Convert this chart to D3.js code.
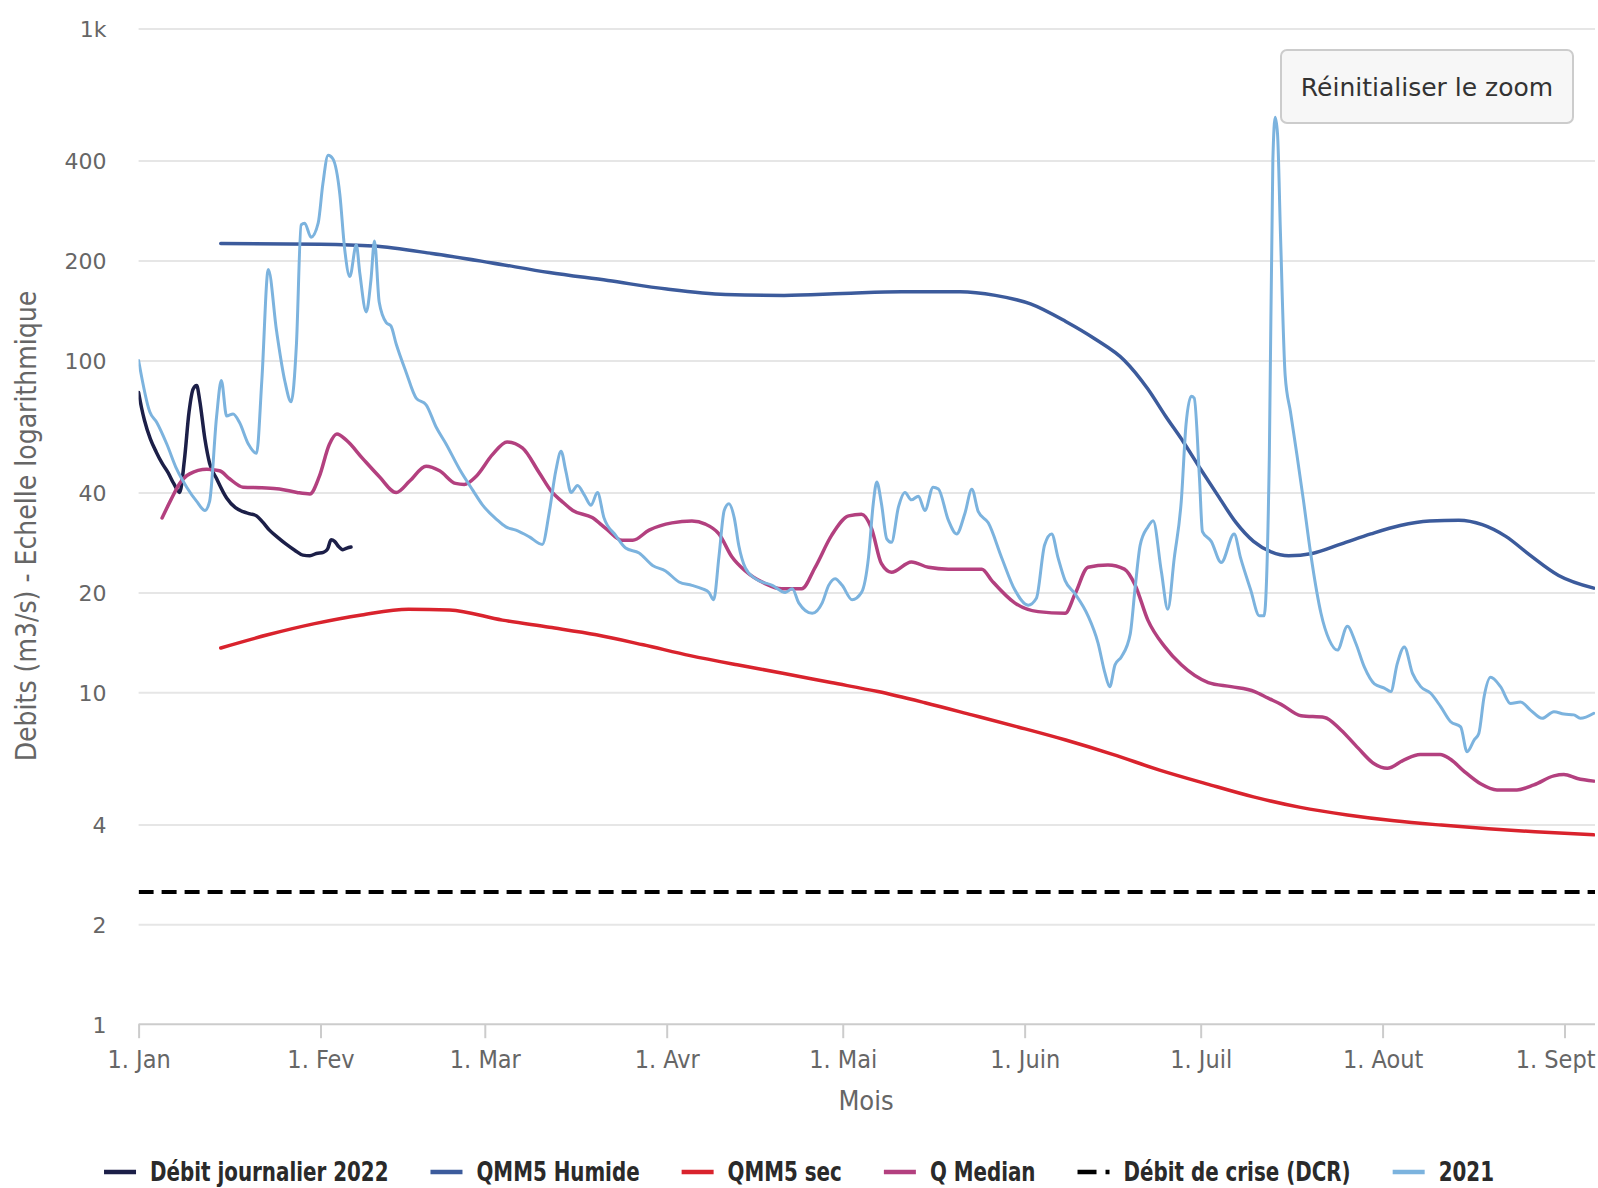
<!DOCTYPE html>
<html><head><meta charset="utf-8">
<script src="https://cdn.jsdelivr.net/npm/d3@7"></script>
<style>
html,body{margin:0;padding:0;background:#fff;}
svg{display:block;}
</style></head>
<body>
<svg id="chart" width="1598" height="1188"></svg>
<script>
// ---------- DATA (day offset from 1 Jan, value in m3/s) ----------
const yTickValues = [1, 2, 4, 10, 20, 40, 100, 200, 400, 1000];
const yTickLabels = ["1", "2", "4", "10", "20", "40", "100", "200", "400", "1k"];
const monthLabels = ["1. Jan", "1. Fev", "1. Mar", "1. Avr", "1. Mai", "1. Juin", "1. Juil", "1. Aout", "1. Sept"];
const seriesNames = ["Débit journalier 2022", "QMM5 Humide", "QMM5 sec", "Q Median", "Débit de crise (DCR)", "2021"];

const debit2022 = [[0,80],[0.5,72],[1,66],[2,58],[3,53],[4,49],[5,46],[6,42.5],[7,40],[7.8,50],[8.6,70],[9.3,82],[9.9,84],[10.4,76],[11.3,58],[12.1,49],[13.3,44],[15,38.5],[16.5,36],[17.8,35],[19,34.5],[20.1,34],[21.2,32.5],[22.3,30.8],[23.7,29.3],[25.2,27.9],[26.6,26.8],[28,25.9],[29.2,25.8],[30.3,26.2],[31.5,26.4],[32.2,27],[32.8,28.8],[33.4,28.5],[34,27.6],[34.8,26.9],[35.5,27.2],[36.2,27.4]];

const qmm5Humide = [[14,225],[31,224],[40,221],[50,210],[60,197],[70,184],[80,174],[90,164],[100,158],[110,157],[120,159],[130,161],[140,161],[146,157],[152,148],[158,131],[163,116],[168,100],[172,82],[175,68],[178,57],[181,47],[184,39],[187,32.5],[190,28.5],[193,26.5],[196,25.8],[200,26.2],[205,28],[210,30],[215,31.8],[220,32.8],[225,33],[229,32],[233,29.5],[237,26],[242,22.5],[248,20.6]];

const qmm5Sec = [[14,13.6],[22,14.9],[30,16.1],[38,17.1],[46,17.8],[53,17.7],[62,16.5],[70,15.7],[78,14.9],[86,13.9],[94,12.9],[102,12.1],[110,11.4],[118,10.7],[126,10.05],[134,9.3],[142,8.55],[150,7.85],[158,7.18],[166,6.5],[174,5.83],[182,5.3],[190,4.84],[198,4.5],[206,4.27],[214,4.1],[222,3.98],[230,3.88],[238,3.8],[248,3.72]];

const qMedian = [[4,33.5],[5.5,38],[7,42.6],[8.7,45.5],[11.6,47],[13.8,46.5],[15.5,44],[17.8,41.5],[21,41.3],[24,41],[27,40],[29.2,39.6],[30.8,44.7],[32.5,55.8],[33.8,60],[35.4,57.5],[38.2,50.6],[41,44.7],[43.9,40],[46.2,43.3],[49,48],[51.3,46.5],[54,42.6],[55.5,42.3],[57.5,44.7],[60.3,52],[62.8,56.8],[65.4,54.5],[68.3,45.8],[70.5,40],[72,37.8],[74,35.3],[77.3,33.6],[79.6,31.2],[82.4,28.7],[84.2,28.7],[87,30.8],[90.9,32.4],[94.3,32.8],[96.6,32.1],[98.9,30],[101.1,25.6],[103.4,23.2],[106.7,21.3],[109.6,20.5],[113,20.5],[115.3,23.8],[118.1,29.7],[121,34],[123.2,34.4],[124.9,31.2],[126.6,24.4],[128.3,23],[131.7,24.7],[134.6,23.8],[138,23.5],[143.7,23.5],[145.4,21.7],[149.3,18.6],[153.3,17.5],[157.9,17.3],[159.6,19.8],[161.8,23.8],[165.2,24.2],[168,23.5],[169.8,21.1],[172,16.5],[174.9,13.7],[177.7,12.1],[182.3,10.7],[186.2,10.4],[190.2,10.05],[192.5,9.6],[194.7,9.2],[198.1,8.5],[202.1,8.4],[204.9,7.7],[207.8,6.8],[210.5,6.1],[212.8,5.9],[215.6,6.25],[218.4,6.5],[221.8,6.5],[223.5,6.3],[225.8,5.8],[228.7,5.3],[231.5,5.08],[234.9,5.08],[237.8,5.26],[241.2,5.6],[242.9,5.65],[245.2,5.5],[248,5.4]];

const dcrValue = 2.5;

const year2021 = [[0,100],[1.9,70],[3.1,65],[4.8,56],[6.5,47],[8.2,41.5],[9.9,37.6],[11.3,35.3],[12.1,37.6],[13.3,68],[14.1,87],[15,68],[16.1,69],[17.2,65],[18.7,56],[20.1,52.5],[21,87],[22.1,188],[23.5,123],[24.9,87],[26,75],[26.9,112],[27.7,256],[28.3,259],[29.4,235],[30.6,259],[31.4,340],[32.3,415],[33.1,405],[34.3,316],[35.1,218],[36,179],[37.1,223],[37.7,183],[38.8,140],[39.6,175],[40.2,229],[41,150],[42.2,130],[43,127],[43.9,112],[45.6,92],[47.3,77],[49,73.5],[50.7,63],[52.4,56],[54.7,47],[57,40.5],[58.6,36.7],[61,33.2],[62.6,31.5],[64.3,30.8],[66.6,29.4],[68.8,27.9],[70,35],[71.1,46.5],[72,53.2],[72.8,46.5],[73.7,40],[74.8,42],[76,39.2],[77.1,36.6],[78.2,40],[79.3,33.6],[81.3,29.7],[83,27.2],[85.3,26.3],[87.6,24.1],[89.8,23.2],[92.1,21.5],[94.3,21],[96.1,20.5],[97.2,20],[98,19],[98.9,25.6],[99.8,35.3],[100.6,37],[101.5,33.6],[102.3,27.6],[103.4,23.7],[105.1,22],[108,21],[110.2,20],[111.4,20.5],[112.5,18.6],[114.8,17.3],[116.5,18.6],[117.6,21],[118.7,22],[119.9,21],[121.6,19],[123.2,20],[124.4,25.6],[125.2,37],[125.8,43],[126.6,37],[127.5,29],[128.3,28.3],[129.5,36.2],[130.6,40],[131.7,38],[132.9,39],[134,35.3],[135.4,41.5],[136.3,41],[138,33],[139.4,30],[140.8,34.5],[142,40.9],[143.1,35],[144.8,32.4],[147.1,25.4],[149.3,20.4],[151.6,18.3],[153,19.2],[154.4,27.8],[155.6,30],[156.7,25.4],[157.9,21.7],[159.6,19.8],[161.8,17],[163.5,14.1],[164.7,11.4],[165.5,10.4],[166.4,12.1],[167.5,12.8],[169,15],[169.8,20.4],[170.7,27.8],[172,31.5],[172.9,32.9],[174.3,23.1],[175.4,17.8],[176.5,25.4],[177.7,37.8],[178.5,64],[179.4,78],[179.9,77],[180.8,44],[181.3,30.5],[182.8,28.5],[184.5,24.6],[186.7,30],[187.8,25.4],[189.5,20.4],[191,17],[191.8,17],[192.7,51.5],[193.3,400],[193.7,540],[194.1,480],[194.6,240],[195.4,90],[196.3,70],[197.4,52],[198.5,38],[199.7,26.5],[200.8,20],[201.5,17.3],[202.9,14.4],[204.3,13.4],[206,15.8],[207.4,14.1],[208.9,11.9],[210.6,10.6],[212.3,10.3],[213.4,10.05],[214.5,12.2],[215.7,13.7],[217.1,11.4],[218.5,10.4],[220.2,9.93],[221.9,9.05],[223.6,8.15],[225.3,7.87],[226.4,6.62],[227.6,7.18],[228.4,7.52],[229.3,9.7],[230.4,11.1],[232.1,10.4],[233.8,9.26],[235.5,9.35],[237.2,8.84],[239.2,8.35],[241.2,8.74],[242.9,8.6],[244.6,8.55],[245.7,8.35],[248,8.65]];

// ---------- LAYOUT ----------
const W = 1598, H = 1188;
const plotL = 138.6, plotR = 1595, plotT = 28.5, plotB = 1024.2;
const t0 = Date.UTC(2022, 0, 1);
const toDate = d => new Date(t0 + d * 86400000);
const endDay = 248.2;

const colors = {
  d2022: "#1c1f48",
  humide: "#3c5b9c",
  sec: "#d9232d",
  median: "#b3407f",
  dcr: "#000000",
  y2021: "#7cb3de"
};

const svg = d3.select("#chart");
const x = d3.scaleUtc().domain([toDate(0), toDate(endDay)]).range([plotL, plotR]);
const y = d3.scaleLog().domain([1, 1000]).range([plotB, plotT]);

// gridlines
const grid = svg.append("g").attr("transform", `translate(${plotL},0)`)
  .call(d3.axisLeft(y).tickValues(yTickValues.filter(v => v > 1)).tickSize(-(plotR - plotL)).tickFormat(""));
grid.select(".domain").remove();
grid.selectAll("line").attr("stroke", "#e6e6e6").attr("stroke-width", 2);

// y labels
const yAxis = svg.append("g").attr("transform", `translate(${plotL},0)`)
  .call(d3.axisLeft(y).tickValues(yTickValues).tickSize(0).tickPadding(32)
    .tickFormat(d => yTickLabels[yTickValues.indexOf(d)]));
yAxis.select(".domain").remove();
yAxis.selectAll("text").attr("fill", "#666").attr("font-family", "'DejaVu Sans', Verdana, sans-serif")
  .attr("font-size", 22).attr("dy", "0.36em");

// x axis
const monthDates = d3.utcMonth.range(toDate(0), toDate(endDay));
const xAxis = svg.append("g").attr("transform", `translate(0,${plotB})`)
  .call(d3.axisBottom(x).tickValues(monthDates).tickSize(14).tickPadding(12)
    .tickFormat((d, i) => monthLabels[i]));
xAxis.select(".domain").attr("stroke", "#cccccc").attr("stroke-width", 2)
  .attr("d", `M${plotL},0H${plotR}`);
xAxis.selectAll(".tick line").attr("stroke", "#cccccc").attr("stroke-width", 2);
xAxis.selectAll("text").attr("fill", "#666").attr("font-family", "'DejaVu Sans Condensed', 'DejaVu Sans', sans-serif")
  .attr("font-size", 25).attr("font-stretch", "condensed");
// keep the last label inside the chart, as the original does
const lastTick = monthDates[monthDates.length - 1];
xAxis.selectAll(".tick text").filter(d => +d === +lastTick)
  .attr("text-anchor", "end").attr("x", plotR - x(lastTick));

// axis titles
svg.append("text").attr("x", 866).attr("y", 1100).attr("dy", "0.36em").attr("text-anchor", "middle")
  .attr("fill", "#666").attr("font-family", "'DejaVu Sans Condensed', 'DejaVu Sans', sans-serif")
  .attr("font-stretch", "condensed").attr("font-size", 27).text("Mois");
svg.append("text").attr("transform", "translate(26,526) rotate(-90)").attr("dy", "0.36em")
  .attr("text-anchor", "middle").attr("fill", "#666")
  .attr("font-family", "'DejaVu Sans Condensed', 'DejaVu Sans', sans-serif").attr("font-stretch", "condensed")
  .attr("font-size", 28).text("Debits (m3/s) - Echelle logarithmique");

// lines
const lineGen = d3.line().x(d => x(toDate(d[0]))).y(d => y(d[1])).curve(d3.curveMonotoneX);
const plotG = svg.append("g");
plotG.append("defs").append("clipPath").attr("id", "clip").append("rect")
  .attr("x", plotL).attr("y", plotT - 5).attr("width", plotR - plotL).attr("height", plotB - plotT + 5);
const lines = plotG.append("g").attr("clip-path", "url(#clip)");

function drawLine(data, color, width) {
  lines.append("path").datum(data).attr("d", lineGen).attr("fill", "none")
    .attr("stroke", color).attr("stroke-width", width)
    .attr("stroke-linejoin", "round").attr("stroke-linecap", "round");
}
drawLine(debit2022, colors.d2022, 3.5);
drawLine(qmm5Humide, colors.humide, 3.5);
drawLine(qmm5Sec, colors.sec, 3.5);
drawLine(qMedian, colors.median, 3.5);
lines.append("line").attr("x1", x(toDate(0))).attr("x2", x(toDate(endDay)))
  .attr("y1", y(dcrValue)).attr("y2", y(dcrValue))
  .attr("stroke", colors.dcr).attr("stroke-width", 4).attr("stroke-dasharray", "15,8");
drawLine(year2021, colors.y2021, 3);

// reset zoom button
const btn = svg.append("g");
btn.append("rect").attr("x", 1281).attr("y", 50).attr("width", 292).attr("height", 73).attr("rx", 6)
  .attr("fill", "#f7f7f7").attr("stroke", "#cccccc").attr("stroke-width", 2);
btn.append("text").attr("x", 1427).attr("y", 86.5).attr("dy", "0.36em").attr("text-anchor", "middle")
  .attr("fill", "#333").attr("font-family", "'DejaVu Sans', Verdana, sans-serif").attr("font-size", 25)
  .text("Réinitialiser le zoom");

// legend
const legendColors = [colors.d2022, colors.humide, colors.sec, colors.median, colors.dcr, colors.y2021];
const narrow = 0.85;
const itemGap = 42;
const lg = svg.append("g");
let lx = 0;
seriesNames.forEach((name, i) => {
  const g = lg.append("g").attr("transform", `translate(${lx},0)`);
  const ln = g.append("line").attr("x1", 0).attr("x2", 32).attr("y1", 0).attr("y2", 0)
    .attr("stroke", legendColors[i]).attr("stroke-width", 4.5);
  if (i === 4) ln.attr("stroke-dasharray", "19,9");
  const t = g.append("text").attr("transform", `translate(46,0) scale(${narrow},1)`)
    .attr("dy", "0.36em").attr("fill", "#2a2a2a")
    .attr("font-family", "'DejaVu Sans Condensed', 'DejaVu Sans', sans-serif")
    .attr("font-stretch", "condensed")
    .attr("font-weight", "bold").attr("font-size", 26).text(name);
  lx += 46 + t.node().getComputedTextLength() * narrow + itemGap;
});
const total = lx - itemGap;
lg.attr("transform", `translate(${799 - total / 2},1172)`);
</script>
</body></html>
